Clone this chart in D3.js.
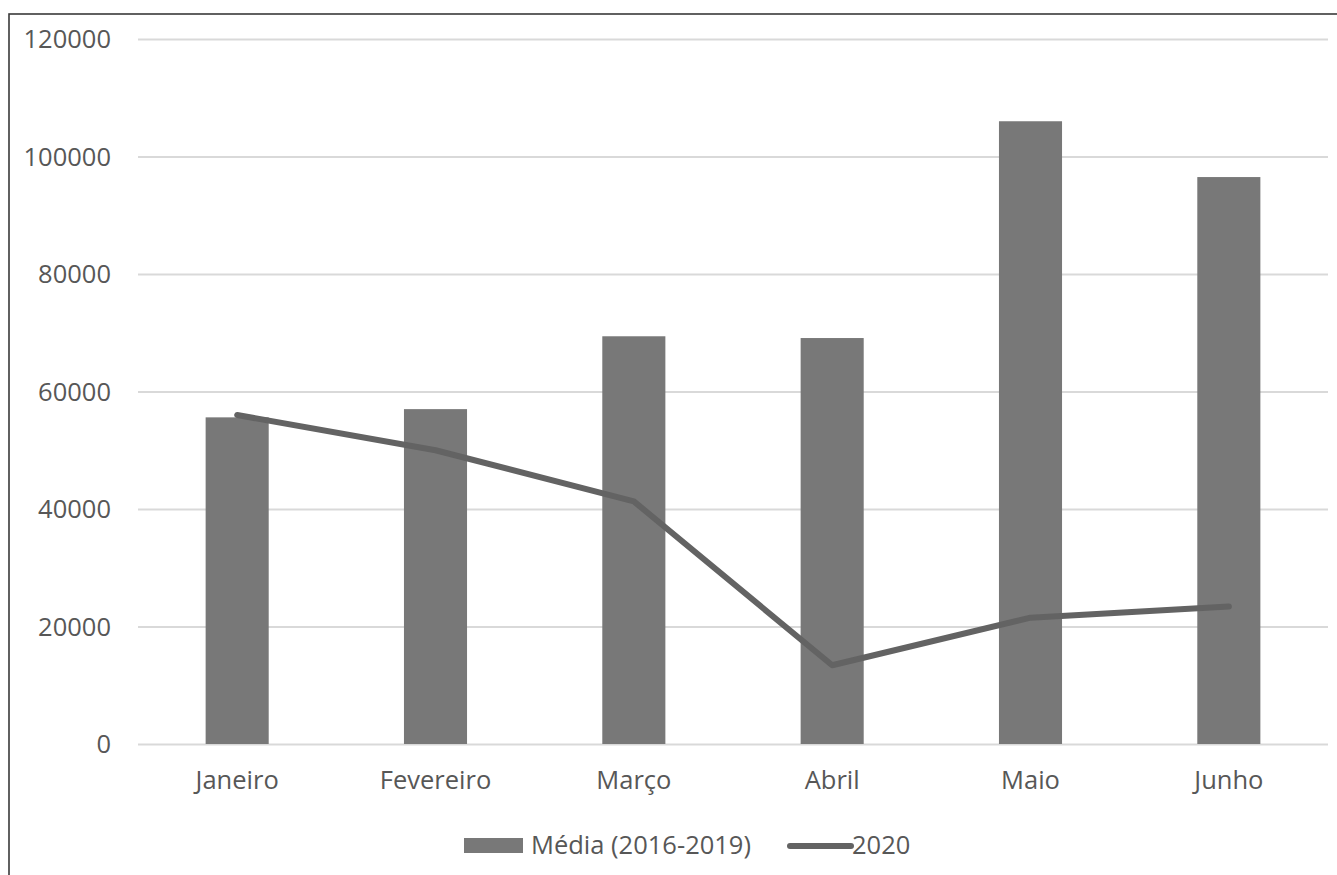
<!DOCTYPE html>
<html>
<head>
<meta charset="utf-8">
<script src="https://cdn.jsdelivr.net/npm/d3@7"></script>
<style>
  html, body { margin: 0; padding: 0; background: #ffffff; }
  svg { display: block; }
</style>
</head>
<body>
<svg id="chart" width="1337" height="875"></svg>
<script>
const categories = ["Janeiro", "Fevereiro", "Março", "Abril", "Maio", "Junho"];
const mediaValues = [55600, 57000, 69400, 69100, 106000, 96500];
const values2020 = [56000, 50000, 41300, 13400, 21500, 23400];
const yTicks = [0, 20000, 40000, 60000, 80000, 100000, 120000];
const seriesNames = ["Média (2016-2019)", "2020"];

const W = 1337, H = 875;
const svg = d3.select("#chart");
const font = "'Open Sans', sans-serif";
const textColor = "#575757";
const fs = 25.5;

// outer border
svg.append("rect")
  .attr("x", 9).attr("y", 14)
  .attr("width", W + 20).attr("height", H + 20)
  .attr("fill", "none").attr("stroke", "#3a3a3a").attr("stroke-width", 1.6);

const x = d3.scaleBand()
  .domain(categories)
  .range([138, 1328])
  .paddingInner(0.682)
  .paddingOuter(0.341);

const y = d3.scaleLinear()
  .domain([0, 120000])
  .range([744, 39]);

// gridlines + y labels
const yAxis = d3.axisLeft(y).tickValues(yTicks).tickFormat(d3.format("d"))
  .tickSize(-(1328 - 138)).tickPadding(27);
const gy = svg.append("g").attr("transform", "translate(138,0)").call(yAxis);
gy.select(".domain").remove();
gy.selectAll(".tick line").attr("stroke", "#d9d9d9").attr("stroke-width", 2);
gy.selectAll(".tick text")
  .attr("fill", textColor)
  .attr("font-family", font)
  .attr("font-size", fs)
  .attr("dy", "0.35em");

// bars
svg.append("g").selectAll("rect")
  .data(categories)
  .join("rect")
  .attr("x", d => x(d))
  .attr("width", x.bandwidth())
  .attr("y", (d, i) => y(mediaValues[i]))
  .attr("height", (d, i) => y(0) - y(mediaValues[i]))
  .attr("fill", "#787878");

// line
const line = d3.line()
  .x((d, i) => x(categories[i]) + x.bandwidth() / 2)
  .y(d => y(d));
svg.append("path")
  .datum(values2020)
  .attr("d", line)
  .attr("fill", "none")
  .attr("stroke", "#636363")
  .attr("stroke-width", 6)
  .attr("stroke-linejoin", "round")
  .attr("stroke-linecap", "round");

// x axis labels
const xAxis = d3.axisBottom(x).tickSize(0).tickPadding(27);
const gx = svg.append("g").attr("transform", "translate(0,744)").call(xAxis);
gx.select(".domain").remove();
gx.selectAll(".tick text")
  .attr("fill", textColor)
  .attr("font-family", font)
  .attr("font-size", fs)
  .attr("dy", "0.71em");

// legend
const lg = svg.append("g");
lg.append("rect")
  .attr("x", 464).attr("y", 838).attr("width", 59).attr("height", 15)
  .attr("fill", "#787878");
lg.append("text")
  .attr("x", 531).attr("y", 845).attr("dy", "0.35em")
  .attr("fill", textColor).attr("font-family", font).attr("font-size", fs)
  .text(seriesNames[0]);
lg.append("line")
  .attr("x1", 790).attr("x2", 851).attr("y1", 846).attr("y2", 846)
  .attr("stroke", "#636363").attr("stroke-width", 6).attr("stroke-linecap", "round");
lg.append("text")
  .attr("x", 852).attr("y", 845).attr("dy", "0.35em")
  .attr("fill", textColor).attr("font-family", font).attr("font-size", fs)
  .text(seriesNames[1]);
</script>
</body>
</html>
